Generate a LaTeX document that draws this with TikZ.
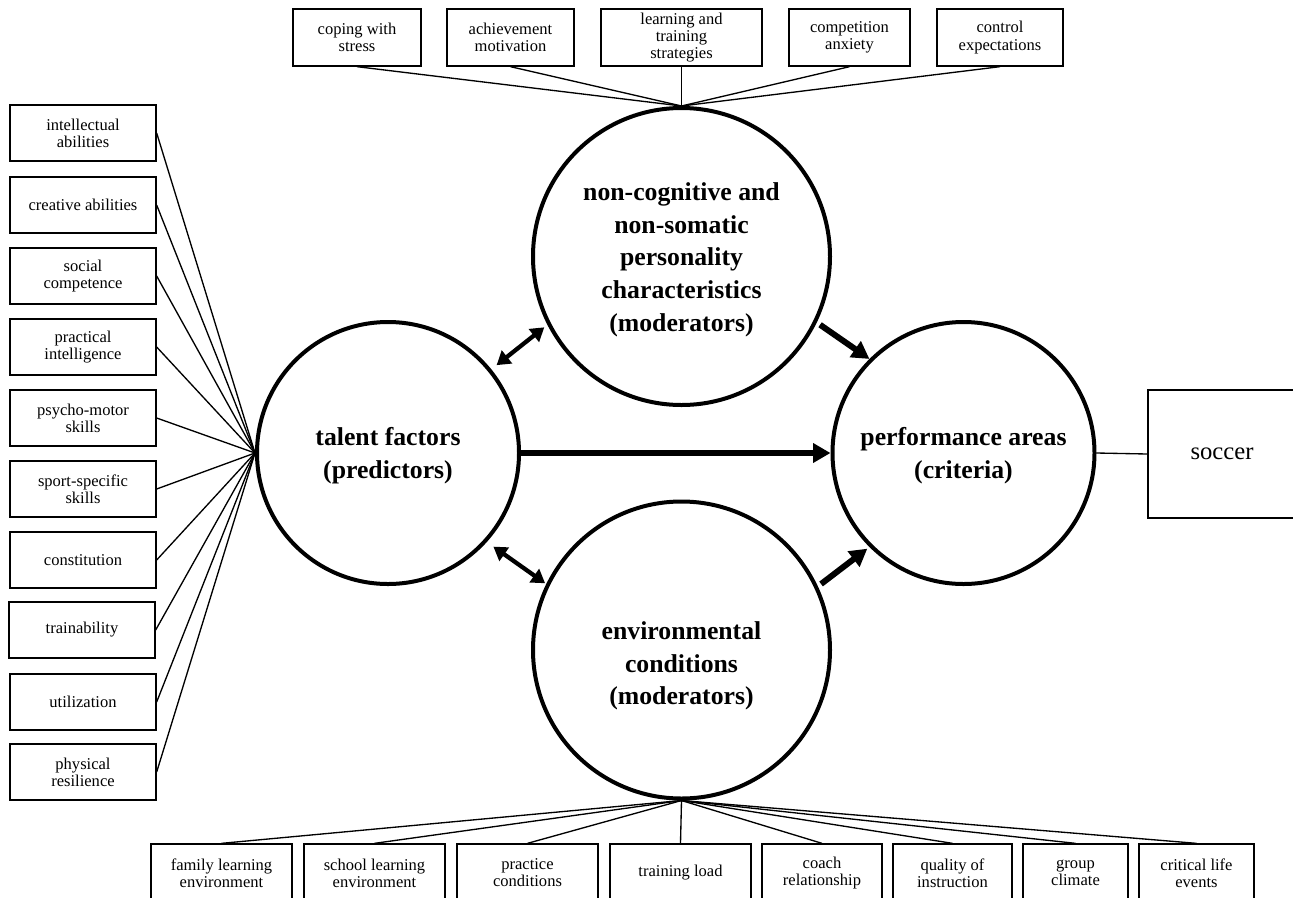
\documentclass[tikz,border=0pt]{standalone}
\usepackage{fontspec}
\setmainfont{Liberation Serif}
\usetikzlibrary{arrows.meta}
\begin{document}
\begin{tikzpicture}[x=0.75pt,y=-0.75pt,
  box/.style={draw, line width=1pt, inner sep=0pt, align=center,
    font=\fontsize{12.4pt}{12.8pt}\selectfont},
  sz/.style 2 args={minimum width=#1*0.75pt, minimum height=#2*0.75pt},
  hub/.style={draw, circle, line width=3pt, inner sep=0pt, minimum size=#1*0.75pt},
  hubtext/.style={align=center, inner sep=0pt,
    font=\bfseries\fontsize{19.3pt}{24.5pt}\selectfont},
  link/.style={line width=1pt},
  bigarrow/.style={line width=4.5pt, -{Triangle[length=13pt,width=14pt]}},
  dblarrow/.style={line width=3.2pt,
    {Triangle[length=10pt,width=12pt]}-{Triangle[length=10pt,width=12pt]}}
]
\useasboundingbox (0,0) rectangle (1293,897);
\clip (0,0) rectangle (1293,897);

% central circles
\node[hub=297] (U) at (681.5,256.5) {};
\node[hub=297] (D) at (681.5,650) {};
\node[hub=262] (L) at (388,453) {};
\node[hub=262] (R) at (963.5,453) {};

\node[hubtext] (Ut) at (681.5,259.5) {non-cognitive and\\non-somatic\\personality\\characteristics\\(moderators)};
\node[hubtext] (Dt) at (681.5,666) {environmental\\conditions\\(moderators)};
\node[hubtext] (Lt) at (388,456) {talent factors\\(predictors)};
\node[hubtext] (Rt) at (963.5,456) {performance areas\\(criteria)};

% talent factors (left column)
\node[box, sz={146}{56}] (l1)  at (83,133) {intellectual\\abilities};
\node[box, sz={146}{56}] (l2)  at (83,205) {creative abilities};
\node[box, sz={146}{56}] (l3)  at (83,276) {social\\competence};
\node[box, sz={146}{56}] (l4)  at (83,347) {practical\\intelligence};
\node[box, sz={146}{56}] (l5)  at (83,418) {psycho-motor\\skills};
\node[box, sz={146}{56}] (l6)  at (83,489) {sport-specific\\skills};
\node[box, sz={146}{56}] (l7)  at (83,560) {constitution};
\node[box, sz={146}{56}] (l8)  at (82,630) {trainability};
\node[box, sz={146}{56}] (l9)  at (83,702) {utilization};
\node[box, sz={146}{56}] (l10) at (83,772) {physical\\resilience};

% personality characteristics (top row)
\node[box, sz={128}{57}] (t1) at (357,37.5)    {coping with\\stress};
\node[box, sz={127}{57}] (t2) at (510.5,37.5)  {achievement\\motivation};
\node[box, sz={161}{57}] (t3) at (681.5,37.5)  {learning and\\training\\strategies};
\node[box, sz={121}{57}] (t4) at (849.5,37.5)  {competition\\anxiety};
\node[box, sz={126}{57}] (t5) at (1000,37.5)   {control\\expectations};

% environmental conditions (bottom row)
\node[box, sz={141}{58}] (b1) at (221.5,873)  {family learning\\environment};
\node[box, sz={141}{58}] (b2) at (374.5,873)  {school learning\\environment};
\node[box, sz={141}{58}] (b3) at (527.5,873)  {practice\\conditions};
\node[box, sz={141}{58}] (b4) at (680.5,873)  {training load};
\node[box, sz={120}{58}] (b5) at (822,873)    {coach\\relationship};
\node[box, sz={119}{58}] (b6) at (952.5,873)  {quality of\\instruction};
\node[box, sz={105}{58}] (b7) at (1075.5,873) {group\\climate};
\node[box, sz={115}{58}] (b8) at (1196.5,873) {critical life\\events};

% performance area
\node[box, sz={148}{128}, font=\fontsize{18.5pt}{20pt}\selectfont] (soc) at (1222,454) {soccer};

% connectors
\foreach \i in {1,...,10} \draw[link] (l\i.east) -- (L.west);
\foreach \i in {1,...,5}  \draw[link] (t\i.south) -- (U.north);
\foreach \i in {1,...,8}  \draw[link] (b\i.north) -- (D.south);
\draw[link] (R.east) -- (soc.west);

% relations between the circles
\draw[bigarrow] (L.east) -- (R.west);
\draw[dblarrow, shorten <=5pt, shorten >=3pt] (L.39) -- (U.207);
\draw[dblarrow, shorten <=6pt, shorten >=1pt] (L.-42) -- (D.154.5);
\draw[bigarrow, shorten <=3pt] (U.-26.4) -- (R.135.6);
\draw[bigarrow, shorten <=3pt, shorten >=2pt] (D.25.7) -- (R.225.3);
\end{tikzpicture}
\end{document}
